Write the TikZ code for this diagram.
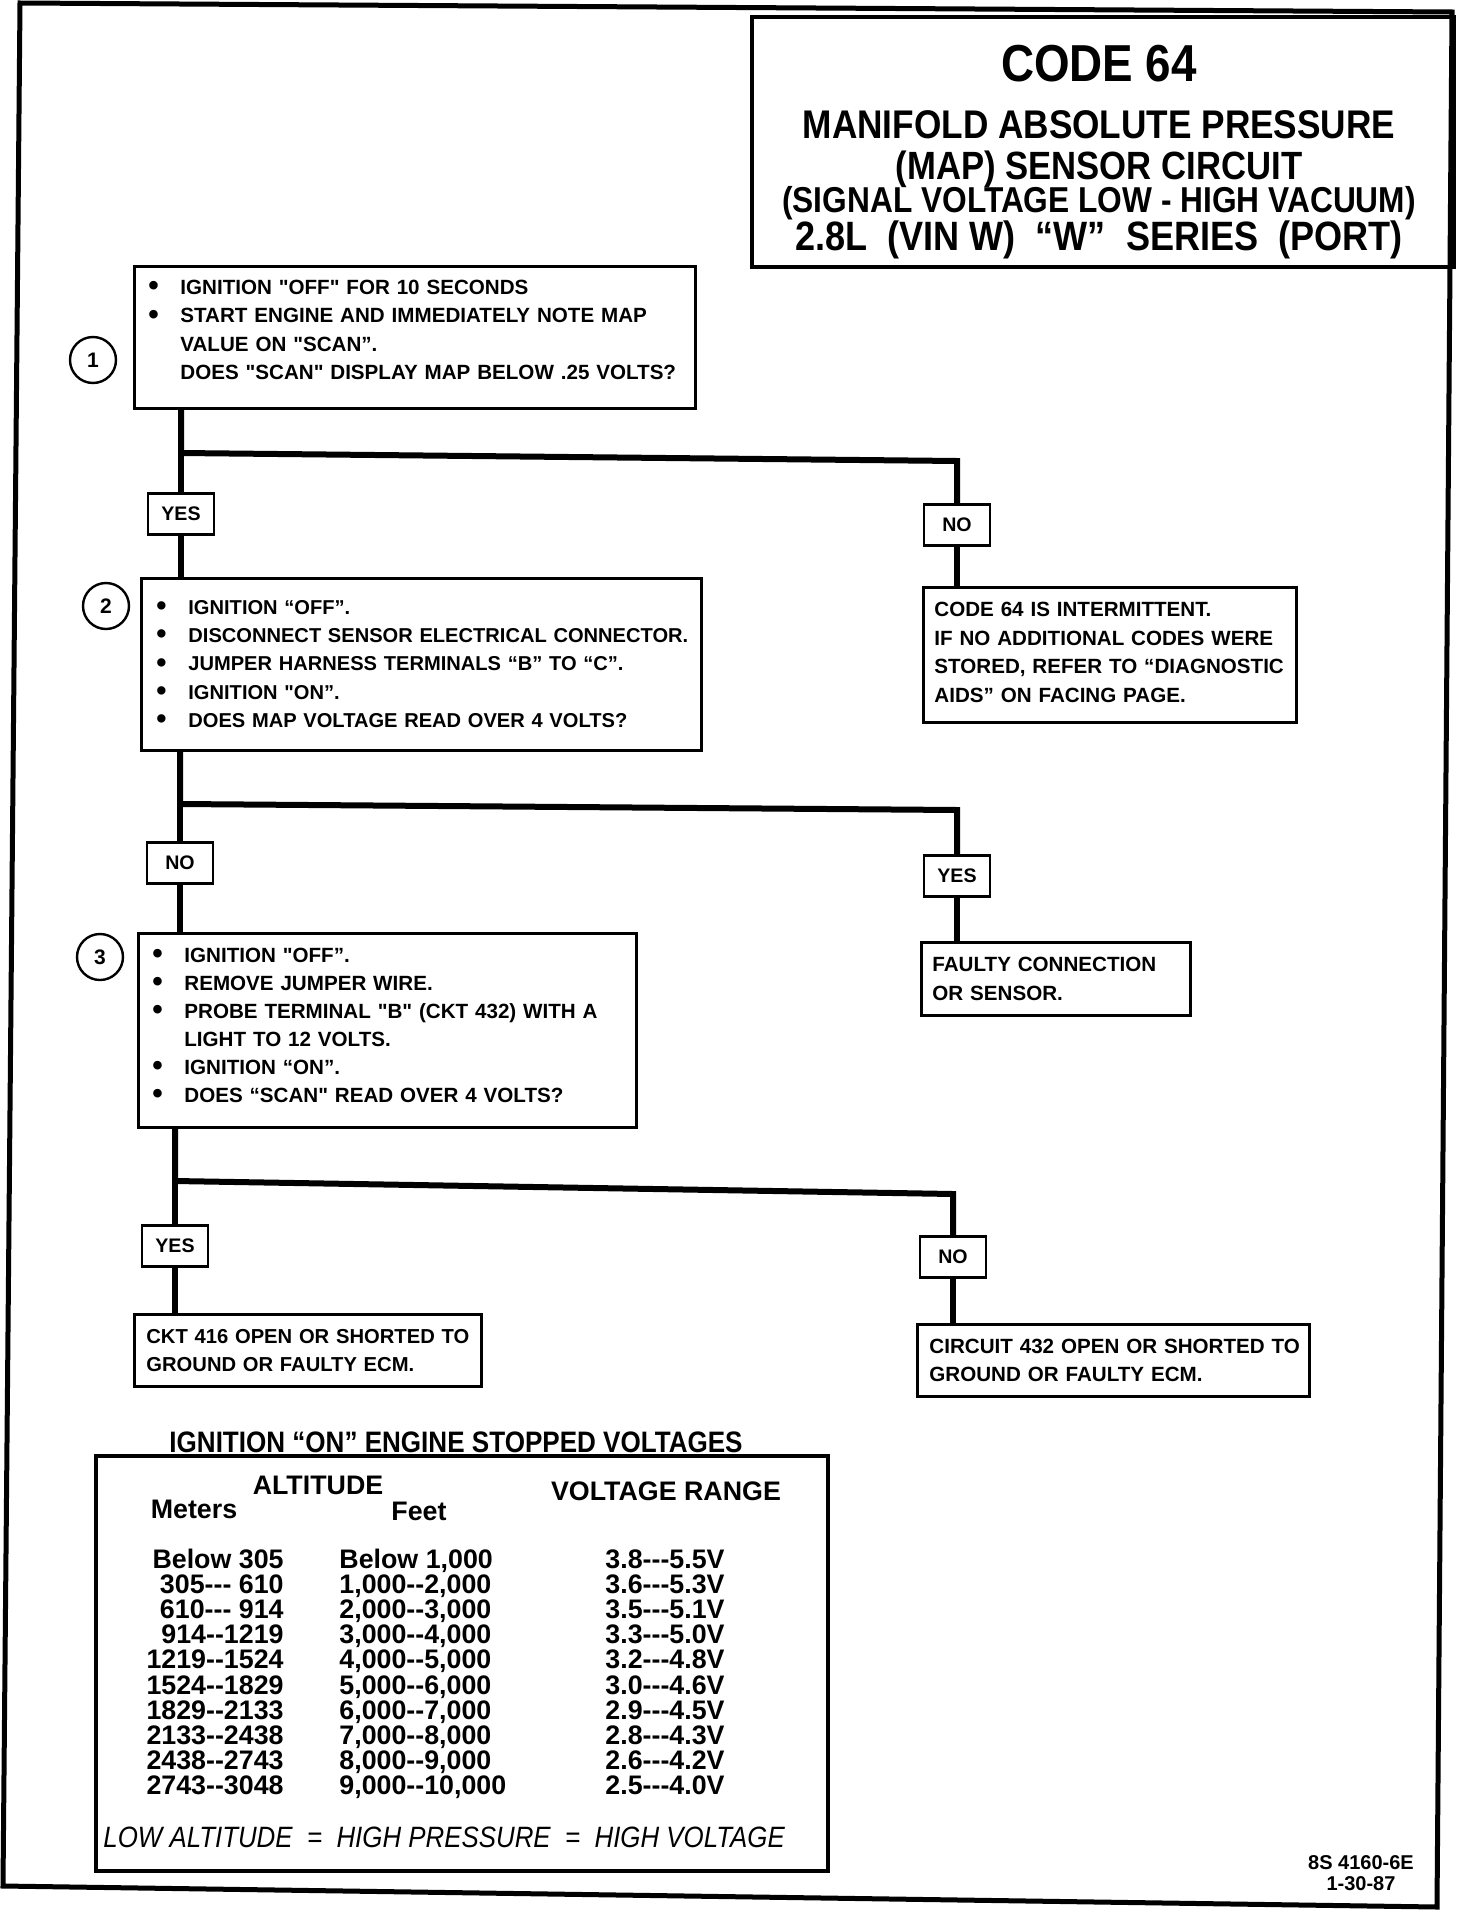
\documentclass[tikz,border=0pt]{standalone}
\usepackage{fontspec}
\setmainfont{Liberation Sans}[Ligatures=TeXOff]
\newfontfamily\condf{Liberation Sans}[FakeStretch=0.88,Ligatures=TeXOff]
\newcommand{\bdot}{\raisebox{-0.6pt}{\scalebox{1.45}{•}}}
\newcommand{\bul}[1]{\mbox{\makebox[16pt][l]{\bdot}#1}}
\newcommand{\ind}[1]{\mbox{\hspace*{16pt}#1}}
\newcommand{\lowstrut}[1]{\rule[-#1]{0pt}{0pt}}
\begin{document}
\begin{tikzpicture}[x=0.5pt,y=-0.5pt,
  conn/.style={line width=3pt},
  bx/.style={draw,line width=1.4pt,anchor=north west,align=left,inner ysep=0pt,
    font=\bfseries\fontsize{10.3}{14.2}\selectfont},
  lbl/.style={draw,line width=1.4pt,minimum width=33pt,minimum height=20.5pt,inner sep=0pt,
    font=\bfseries\fontsize{9.8}{11}\selectfont},
  num/.style={draw,circle,line width=1.2pt,minimum size=23pt,inner sep=0pt,
    font=\bfseries\fontsize{10.5}{12}\selectfont},
  ttl/.style={inner sep=0pt,anchor=base},
  row/.style={inner sep=0pt,font=\bfseries\fontsize{13.4}{15}\selectfont},
  mcol/.style={row,anchor=base east},
  fcol/.style={row,anchor=base west},
  vcol/.style={row,anchor=base west}
]
\useasboundingbox (0,0) rectangle (1472,1916);
\fill[white] (0,0) rectangle (1472,1916);

% page frame
\draw[line width=2.5pt] (20,3) -- (1452,12) -- (1437,1907) -- (3,1886) -- cycle;

% title box
\node[draw,line width=2pt,anchor=north west,minimum width=351pt,minimum height=125pt,inner sep=0pt] (title) at (750,15) {};
\node[ttl,font=\condf\bfseries\fontsize{26}{30}\selectfont] (t1) at (1099,82) {CODE 64};
\node[ttl,font=\condf\bfseries\fontsize{20}{24}\selectfont] (t2) at (1099,139) {MANIFOLD ABSOLUTE PRESSURE};
\node[ttl,font=\condf\bfseries\fontsize{19.7}{24}\selectfont] (t3) at (1099,179) {(MAP) SENSOR CIRCUIT};
\node[ttl,font=\condf\bfseries\fontsize{18}{22}\selectfont] (t4) at (1099,213) {(SIGNAL VOLTAGE LOW - HIGH VACUUM)};
\node[ttl,font=\condf\bfseries\fontsize{20.5}{24}\selectfont] (t5) at (1099,250) {2.8L\ \ (VIN W)\ \ “W”\ \ SERIES\ \ (PORT)};

% step 1
\node[bx,text width=266.5pt,inner xsep=7pt,minimum height=71pt] (b1) at (133,265) {%
\bul{IGNITION "OFF" FOR 10 SECONDS}\\
\bul{START ENGINE AND IMMEDIATELY NOTE MAP}\\
\ind{VALUE ON "SCAN”.}\\
\ind{DOES "SCAN" DISPLAY MAP BELOW .25 VOLTS?}\lowstrut{7.5pt}};
\node[num] (c1) at (93,360) {1};

\coordinate (j1l) at (181,453);
\coordinate (j1r) at (957,461);
\node[lbl] (y1) at (181,514) {YES};
\node[lbl] (n1) at (957,525) {NO};

% step 2
\node[bx,text width=265pt,inner xsep=7.5pt,minimum height=86pt,
  font=\bfseries\fontsize{10.05}{14.2}\selectfont] (b2) at (140,577) {%
\bul{IGNITION “OFF”.}\\
\bul{DISCONNECT SENSOR ELECTRICAL CONNECTOR.}\\
\bul{JUMPER HARNESS TERMINALS “B” TO “C”.}\\
\bul{IGNITION "ON”.}\\
\bul{DOES MAP VOLTAGE READ OVER 4 VOLTS?}};
\node[num] (c2) at (106,606) {2};

\node[bx,text width=175.5pt,inner xsep=5.5pt,minimum height=67.5pt] (ra) at (922,586) {%
\mbox{CODE 64 IS INTERMITTENT.}\\
\mbox{IF NO ADDITIONAL CODES WERE}\\
\mbox{STORED, REFER TO “DIAGNOSTIC}\\
\mbox{AIDS” ON FACING PAGE.}\lowstrut{2.5pt}};

\coordinate (j2l) at (180,804);
\coordinate (j2r) at (957,810);
\node[lbl] (n2) at (180,863) {NO};
\node[lbl] (y2) at (957,876) {YES};

\node[bx,text width=123.5pt,inner xsep=5.5pt,minimum height=36.5pt] (rb) at (920,941) {%
\mbox{FAULTY CONNECTION}\\
\mbox{OR SENSOR.}};

% step 3
\node[bx,text width=235pt,inner xsep=7pt,minimum height=97pt,
  font=\bfseries\fontsize{10.3}{14}\selectfont] (b3) at (137,932) {%
\bul{IGNITION "OFF”.}\\
\bul{REMOVE JUMPER WIRE.}\\
\bul{PROBE TERMINAL "B" (CKT 432) WITH A}\\
\ind{LIGHT TO 12 VOLTS.}\\
\bul{IGNITION “ON”.}\\
\bul{DOES “SCAN" READ OVER 4 VOLTS?}\lowstrut{5pt}};
\node[num] (c3) at (100,957) {3};

\coordinate (j3l) at (175,1181);
\coordinate (j3r) at (953,1194);
\node[lbl] (y3) at (175,1246) {YES};
\node[lbl] (n3) at (953,1257) {NO};

\node[bx,text width=161.5pt,inner xsep=6pt,minimum height=36pt,
  font=\bfseries\fontsize{10.1}{14.2}\selectfont] (rc) at (133,1313) {%
\mbox{CKT 416 OPEN OR SHORTED TO}\\
\mbox{GROUND OR FAULTY ECM.}};
\node[bx,text width=184pt,inner xsep=6pt,minimum height=36pt] (rd) at (916,1323) {%
\mbox{CIRCUIT 432 OPEN OR SHORTED TO}\\
\mbox{GROUND OR FAULTY ECM.}};

% connectors
\draw[conn] (b1.south -| j1l) -- (j1l) -- (j1r) -- (n1.north);
\draw[conn] (y1.north |- j1l) -- (y1.north);
\draw[conn] (y1.south) -- (y1.south |- b2.north);
\draw[conn] (n1.south) -- (n1.south |- ra.north);

\draw[conn] (b2.south -| j2l) -- (j2l) -- (j2r) -- (y2.north);
\draw[conn] (n2.north |- j2l) -- (n2.north);
\draw[conn] (n2.south) -- (n2.south |- b3.north);
\draw[conn] (y2.south) -- (y2.south |- rb.north);

\draw[conn] (b3.south -| j3l) -- (j3l) -- (j3r) -- (n3.north);
\draw[conn] (y3.north |- j3l) -- (y3.north);
\draw[conn] (y3.south) -- (y3.south |- rc.north);
\draw[conn] (n3.south) -- (n3.south |- rd.north);

% table
\node[inner sep=0pt,anchor=base,font=\condf\bfseries\fontsize{14.8}{17}\selectfont] (tt) at (456,1452) {IGNITION “ON” ENGINE STOPPED VOLTAGES};
\node[draw,line width=2pt,anchor=north west,minimum width=366pt,minimum height=207.5pt,inner sep=0pt] (tab) at (94,1454) {};
\node[row,anchor=base] (h1) at (318,1494) {ALTITUDE};
\node[row,anchor=base] (h2) at (666,1500) {VOLTAGE RANGE};
\node[row,anchor=base] (h3) at (194,1518) {Meters};
\node[row,anchor=base] (h4) at (419,1520) {Feet};

\node[mcol] (m0) at (284,1568) {Below 305};
\node[mcol] (m1) at (284,1593.2) {305--- 610};
\node[mcol] (m2) at (284,1618.4) {610--- 914};
\node[mcol] (m3) at (284,1643.6) {914--1219};
\node[mcol] (m4) at (284,1668.8) {1219--1524};
\node[mcol] (m5) at (284,1694) {1524--1829};
\node[mcol] (m6) at (284,1719.2) {1829--2133};
\node[mcol] (m7) at (284,1744.4) {2133--2438};
\node[mcol] (m8) at (284,1769.6) {2438--2743};
\node[mcol] (m9) at (284,1794.8) {2743--3048};

\node[fcol] (f0) at (339,1568) {Below 1,000};
\node[fcol] (f1) at (339,1593.2) {1,000--2,000};
\node[fcol] (f2) at (339,1618.4) {2,000--3,000};
\node[fcol] (f3) at (339,1643.6) {3,000--4,000};
\node[fcol] (f4) at (339,1668.8) {4,000--5,000};
\node[fcol] (f5) at (339,1694) {5,000--6,000};
\node[fcol] (f6) at (339,1719.2) {6,000--7,000};
\node[fcol] (f7) at (339,1744.4) {7,000--8,000};
\node[fcol] (f8) at (339,1769.6) {8,000--9,000};
\node[fcol] (f9) at (339,1794.8) {9,000--10,000};

\node[vcol] (v0) at (605,1568) {3.8---5.5V};
\node[vcol] (v1) at (605,1593.2) {3.6---5.3V};
\node[vcol] (v2) at (605,1618.4) {3.5---5.1V};
\node[vcol] (v3) at (605,1643.6) {3.3---5.0V};
\node[vcol] (v4) at (605,1668.8) {3.2---4.8V};
\node[vcol] (v5) at (605,1694) {3.0---4.6V};
\node[vcol] (v6) at (605,1719.2) {2.9---4.5V};
\node[vcol] (v7) at (605,1744.4) {2.8---4.3V};
\node[vcol] (v8) at (605,1769.6) {2.6---4.2V};
\node[vcol] (v9) at (605,1794.8) {2.5---4.0V};

\node[inner sep=0pt,anchor=base west,font=\condf\itshape\fontsize{14.7}{18}\selectfont] (low) at (103,1847) {LOW ALTITUDE\ \ =\ \ HIGH PRESSURE\ \ =\ \ HIGH VOLTAGE};

% footer
\node[inner sep=0pt,anchor=base,font=\bfseries\fontsize{10}{12}\selectfont] (fa) at (1361,1869) {8S 4160-6E};
\node[inner sep=0pt,anchor=base,font=\bfseries\fontsize{10}{12}\selectfont] (fb) at (1361,1890) {1-30-87};
\end{tikzpicture}
\end{document}
